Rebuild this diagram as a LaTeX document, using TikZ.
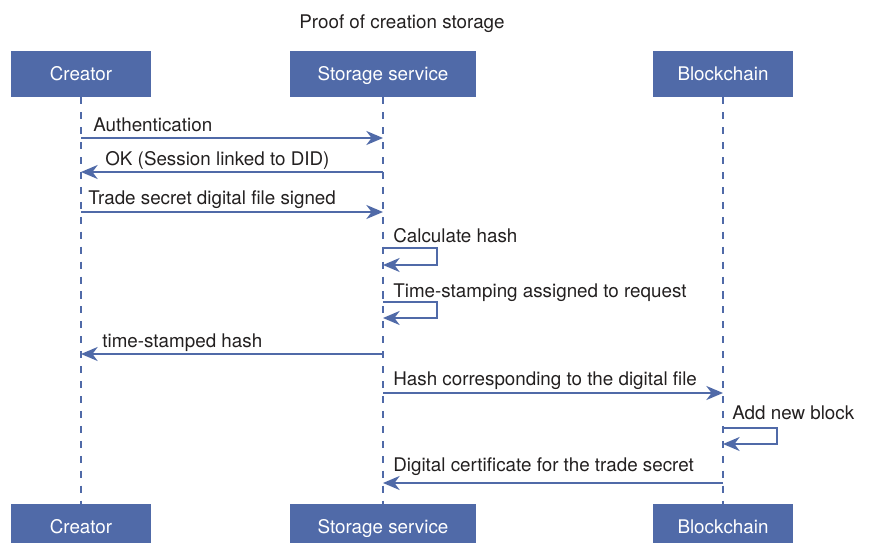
\documentclass[tikz,border=0pt]{standalone}
\usepackage{fontspec}
\setmainfont{TeX Gyre Heros}
\usepackage{tikz}
\usetikzlibrary{arrows.meta}
\definecolor{seqblue}{RGB}{80,106,168}
\definecolor{seqtext}{RGB}{35,32,32}

\begin{document}
\begin{tikzpicture}[x=0.02cm, y=-0.02cm, font=\fontsize{10.7}{13}\selectfont,
	actor/.style={fill=seqblue, text=white, minimum height=0.92cm, inner sep=0pt, text height=9pt, text depth=2pt},
	lifeline/.style={seqblue, line width=0.9pt, dash pattern=on 4pt off 4.5pt},
	msg/.style={seqblue, line width=0.9pt, -{Stealth[length=9.5pt, width=8pt, inset=3pt]}},
	msglabel/.style={anchor=base west, text=seqtext, inner sep=0pt}]
\useasboundingbox (0,0) rectangle (869,543);
\clip (0,0) rectangle (869,543);

\node[text=seqtext, anchor=base, inner sep=0pt] (title) at (402,29) {Proof of creation storage};

\foreach \id/\x/\w/\name in {cre/81/2.82/Creator, sto/383/3.72/Storage service, blk/723/2.82/Blockchain} {
	\node[actor, minimum width=\w cm] (\id-top) at (\x,74) {\name};
	\node[actor, minimum width=\w cm] (\id-bot) at (\x,527) {\name};
	\draw[lifeline] (\id-top) -- (\id-bot);
}

\foreach \r/\y in {1/138, 2/172, 3/212, 4/248, 5/265, 6/302, 7/318, 8/354, 9/393, 10/428, 11/444, 12/483} {
	\coordinate (cre\r) at (81,\y);
	\coordinate (sto\r) at (383,\y);
	\coordinate (blk\r) at (723,\y);
}

\draw[msg] (cre1) -- (sto1);
\draw[msg] (sto2) -- (cre2);
\draw[msg] (cre3) -- (sto3);
\draw[msg] (sto4) -- ++(54,0) |- (sto5);
\draw[msg] (sto6) -- ++(54,0) |- (sto7);
\draw[msg] (sto8) -- (cre8);
\draw[msg] (sto9) -- (blk9);
\draw[msg] (blk10) -- ++(54,0) |- (blk11);
\draw[msg] (blk12) -- (sto12);

\node[msglabel] (auth) at (93,132) {Authentication};
\node[msglabel] (ok) at (105,166) {OK (Session linked to DID)};
\node[msglabel] (signed) at (88,205) {Trade secret digital file signed};
\node[msglabel] (calc) at (393,243) {Calculate hash};
\node[msglabel] (stamp) at (393,298) {Time-stamping assigned to request};
\node[msglabel] (stamped) at (102,348) {time-stamped hash};
\node[msglabel] (hash) at (393,386) {Hash corresponding to the digital file};
\node[msglabel] (block) at (732,420) {Add new block};
\node[msglabel] (cert) at (393,472) {Digital certificate for the trade secret};
\end{tikzpicture}
\end{document}
